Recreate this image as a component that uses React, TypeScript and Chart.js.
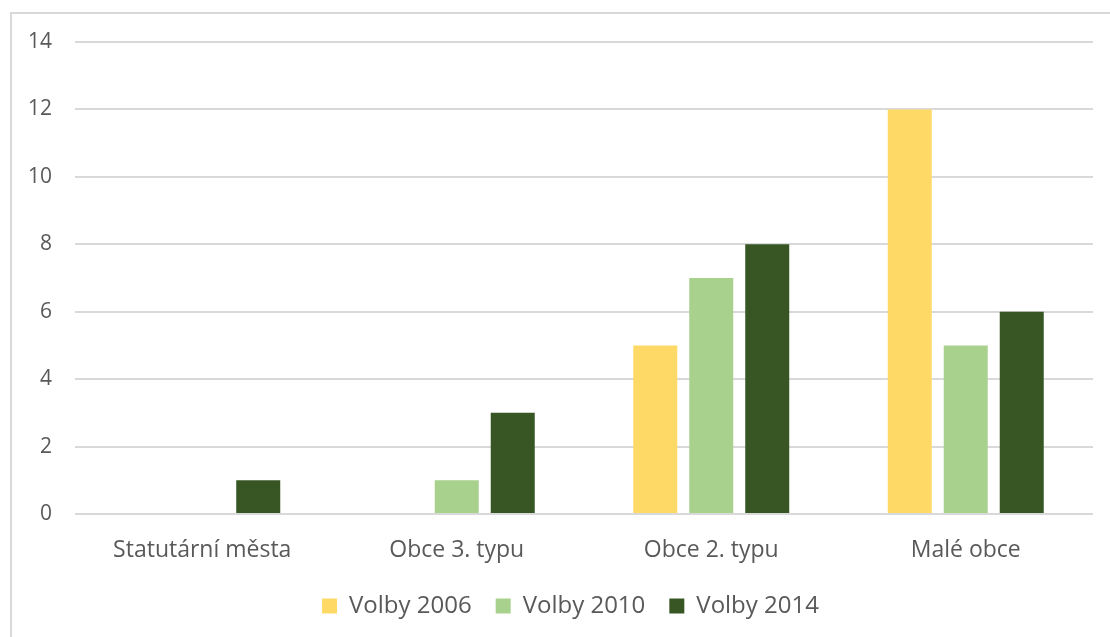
import React, { useEffect, useRef } from "react";
import { Chart, registerables } from "chart.js";

Chart.register(...registerables);

const categories = ["Statutární města", "Obce 3. typu", "Obce 2. typu", "Malé obce"];
const seriesNames = ["Volby 2006", "Volby 2010", "Volby 2014"];
const volby2006 = [0, 0, 5, 12];
const volby2010 = [0, 1, 7, 5];
const volby2014 = [1, 3, 8, 6];
const seriesColors = ["#FFD966", "#A9D18E", "#375623"];

const FONT = "'Open Sans', sans-serif";

const legendShift = {
  id: "legendShift",
  afterLayout(chart: any) {
    if (chart.legend) {
      chart.legend.left = 48;
    }
  },
};

export default function App() {
  const ref = useRef<HTMLCanvasElement>(null);
  useEffect(() => {
    if (!ref.current) return;
    const values = [volby2006, volby2010, volby2014];
    const chart = new Chart(ref.current, {
      type: "bar",
      data: {
        labels: categories,
        datasets: seriesNames.map((name, i) => ({
          label: name,
          data: values[i],
          backgroundColor: seriesColors[i],
          borderWidth: 0,
          categoryPercentage: 0.66,
          barPercentage: 0.786,
        })),
      },
      options: {
        responsive: false,
        animation: false,
        layout: { padding: { top: 42, right: 17, left: 0, bottom: 9 } },
        plugins: {
          legend: {
            position: "bottom",
            labels: {
              boxWidth: 15,
              boxHeight: 15,
              padding: 24,
              color: "#595959",
              font: { family: FONT, size: 24 },
            },
          },
          tooltip: { enabled: false },
        },
        scales: {
          x: {
            grid: { display: false },
            border: { display: false },
            ticks: { color: "#595959", font: { family: FONT, size: 23 }, padding: 15 },
            afterFit: (s: any) => { s.height = 56; },
          },
          y: {
            min: 0,
            max: 14,
            ticks: { stepSize: 2, color: "#595959", font: { family: FONT, size: 21 }, padding: 23 },
            grid: { color: "#d9d9d9", lineWidth: 2, drawTicks: false },
            border: { display: false },
            afterFit: (s: any) => { s.width = 75; },
          },
        },
      },
      plugins: [legendShift],
    });
    return () => chart.destroy();
  }, []);
  return (
    <div style={{ position: "fixed", left: 0, top: 0, width: 1110, height: 637, overflow: "hidden", background: "#fff" }}>
      <div style={{ position: "absolute", left: 10, top: 12, width: 1300, height: 800, border: "2px solid #d9d9d9" }} />
      <canvas ref={ref} width={1110} height={637} style={{ position: "absolute", left: 0, top: 0 }} />
    </div>
  );
}
